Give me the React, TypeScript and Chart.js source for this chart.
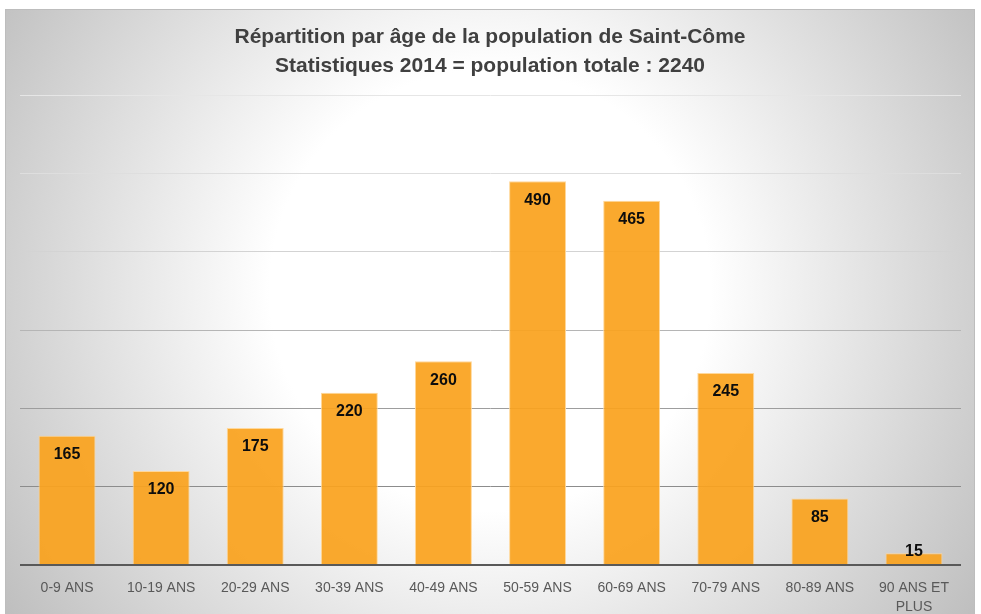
import React, { useEffect, useRef } from "react";
import { Chart, registerables } from "chart.js";

Chart.register(...registerables);

const categories: (string | string[])[] = [
  "0-9 ANS",
  "10-19 ANS",
  "20-29 ANS",
  "30-39 ANS",
  "40-49 ANS",
  "50-59 ANS",
  "60-69 ANS",
  "70-79 ANS",
  "80-89 ANS",
  ["90 ANS ET", "PLUS"],
];
const population: number[] = [165, 120, 175, 220, 260, 490, 465, 245, 85, 15];
const titleLines: string[] = [
  "Répartition par âge de la population de Saint-Côme",
  "Statistiques 2014 = population totale : 2240",
];
const gridColors: Record<number, string> = {
  0: "rgba(0,0,0,0)",
  100: "#8c8c8c",
  200: "#9d9d9d",
  300: "#b5b5b5",
  400: "#d3d3d3",
  500: "#dedede",
  600: "#e6e6e6",
};

const W = 981;
const H = 614;

export default function App() {
  const ref = useRef<HTMLCanvasElement | null>(null);

  useEffect(() => {
    document.body.style.margin = "0";
    const canvas = ref.current;
    if (!canvas) return;

    const bgPlugin = {
      id: "bgPlugin",
      beforeDraw(chart: any) {
        const ctx = chart.ctx as CanvasRenderingContext2D;
        ctx.save();
        ctx.fillStyle = "#ffffff";
        ctx.fillRect(0, 0, W, H);
        const g = ctx.createRadialGradient(490, 290, 0, 490, 290, 580);
        g.addColorStop(0, "#ffffff");
        g.addColorStop(0.38, "#ffffff");
        g.addColorStop(1, "#bfbfbf");
        ctx.fillStyle = g;
        ctx.fillRect(5, 9, 970, H - 9 + 2);
        ctx.strokeStyle = "#bdbdbd";
        ctx.lineWidth = 1;
        ctx.strokeRect(5.5, 9.5, 969, H);
        // title
        ctx.fillStyle = "#404040";
        ctx.font = "bold 21px 'Liberation Sans', Arial, sans-serif";
        ctx.textAlign = "center";
        ctx.textBaseline = "middle";
        ctx.fillText(titleLines[0], 490, 37);
        ctx.fillText(titleLines[1], 490, 66);
        ctx.restore();
      },
      afterDatasetsDraw(chart: any) {
        const ctx = chart.ctx as CanvasRenderingContext2D;
        const area = chart.chartArea;
        const yScale = chart.scales.y;
        const base = yScale.getPixelForValue(0);
        ctx.save();
        ctx.strokeStyle = "#595959";
        ctx.lineWidth = 2;
        ctx.beginPath();
        ctx.moveTo(area.left, base);
        ctx.lineTo(area.right, base);
        ctx.stroke();
        // data labels
        const meta = chart.getDatasetMeta(0);
        ctx.fillStyle = "#0d0d0d";
        ctx.font = "bold 16px 'Liberation Sans', Arial, sans-serif";
        ctx.textAlign = "center";
        ctx.textBaseline = "middle";
        meta.data.forEach((bar: any, i: number) => {
          const y = Math.min(bar.y + 19, base - 13);
          ctx.fillText(String(population[i]), bar.x, y);
        });
        ctx.restore();
      },
    };

    const chart = new Chart(canvas, {
      type: "bar",
      data: {
        labels: categories as any,
        datasets: [
          {
            data: population,
            backgroundColor: "rgba(250,162,30,0.93)",
            borderColor: "rgba(255,214,150,0.95)",
            borderWidth: 1,
            categoryPercentage: 1,
            barPercentage: 0.605,
          },
        ],
      },
      options: {
        animation: false,
        responsive: false,
        devicePixelRatio: 1,
        layout: { padding: { left: 20, right: 20, top: 95, bottom: 0 } },
        plugins: {
          legend: { display: false },
          title: { display: false },
          tooltip: { enabled: false },
        },
        scales: {
          x: {
            grid: { display: false, drawTicks: false },
            border: { display: false },
            ticks: {
              color: "#595959",
              font: { family: "'Liberation Sans', Arial, sans-serif", size: 14, lineHeight: 1.35 },
              padding: 14,
              maxRotation: 0,
              autoSkip: false,
            },
            afterFit: (scale: any) => {
              scale.height = 49;
            },
          },
          y: {
            min: 0,
            max: 600,
            ticks: { display: false, stepSize: 100 },
            border: { display: false },
            grid: {
              drawTicks: false,
              lineWidth: 1,
              color: (ctx: any) => gridColors[ctx.tick?.value] ?? "#cccccc",
            },
            afterFit: (scale: any) => {
              scale.width = 0;
            },
          },
        },
      },
      plugins: [bgPlugin],
    });

    return () => chart.destroy();
  }, []);

  return (
    <div style={{ width: W, height: H }}>
      <canvas ref={ref} width={W} height={H} style={{ display: "block" }} />
    </div>
  );
}
